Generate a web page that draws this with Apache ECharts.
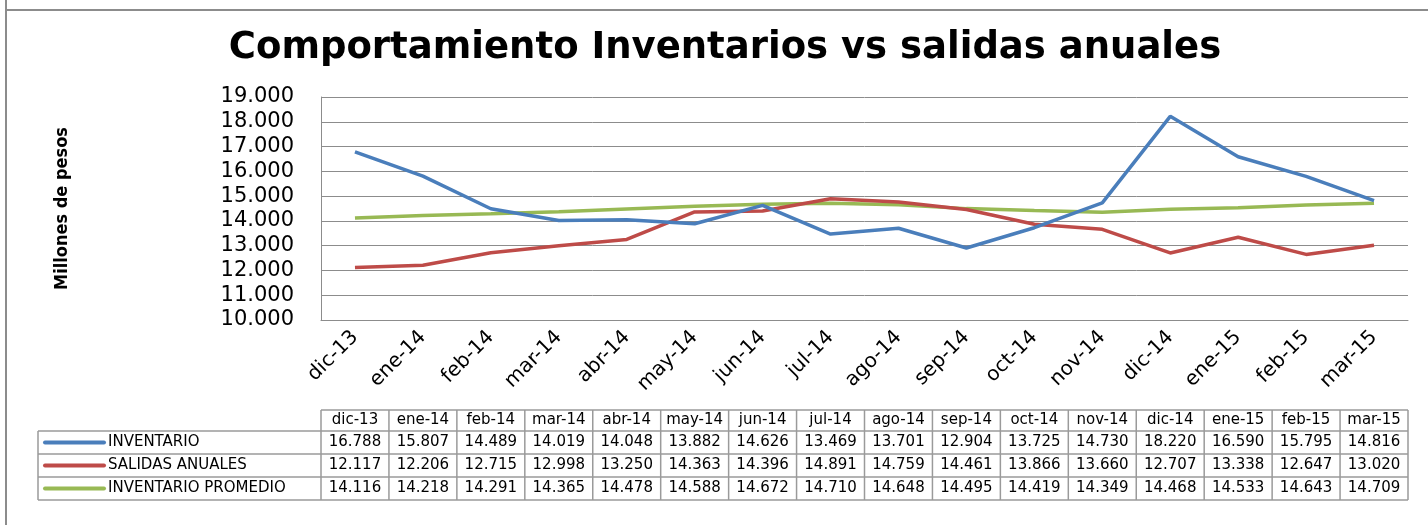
<!DOCTYPE html>
<html>
<head>
<meta charset="utf-8">
<script src="https://cdn.jsdelivr.net/npm/echarts@6/dist/echarts.min.js"></script>
<style>
  html, body { margin: 0; padding: 0; background: #fff; }
  #chart { width: 1428px; height: 525px; }
</style>
</head>
<body>
<div id="chart"></div>
<script>
// data (values in millones de pesos)
var months = ['dic-13', 'ene-14', 'feb-14', 'mar-14', 'abr-14', 'may-14', 'jun-14', 'jul-14',
  'ago-14', 'sep-14', 'oct-14', 'nov-14', 'dic-14', 'ene-15', 'feb-15', 'mar-15']
var inventario = [16788, 15807, 14489, 14019, 14048, 13882, 14626, 13469,
  13701, 12904, 13725, 14730, 18220, 16590, 15795, 14816]
var salidas = [12117, 12206, 12715, 12998, 13250, 14363, 14396, 14891,
  14759, 14461, 13866, 13660, 12707, 13338, 12647, 13020]
var promedio = [14116, 14218, 14291, 14365, 14478, 14588, 14672, 14710,
  14648, 14495, 14419, 14349, 14468, 14533, 14643, 14709]
var seriesNames = ['INVENTARIO', 'SALIDAS ANUALES', 'INVENTARIO PROMEDIO']
var colors = ['#4a7ebb', '#be4b48', '#98b954']

function fmt(v) {
  var miles = Math.floor(v / 1000)
  var rest = String(v % 1000)
  while (rest.length < 3) rest = '0' + rest
  return miles + '.' + rest
}

var chart = echarts.init(document.getElementById('chart'))
var gridColor = '#8c8c8c'

chart.setOption({
  animation: false,
  grid: { left: 321, right: 20, top: 97, bottom: 205 },
  xAxis: {
    type: 'category',
    data: months,
    boundaryGap: true,
    axisLine: { show: true, lineStyle: { color: gridColor, width: 1 } },
    axisTick: { show: false },
    axisLabel: {
      rotate: 45,
      margin: 14,
      interval: 0,
      color: '#000',
      fontFamily: 'DejaVu Sans',
      fontSize: 20
    }
  },
  yAxis: {
    type: 'value',
    min: 10000,
    max: 19000,
    interval: 1000,
    name: 'Millones de pesos',
    nameLocation: 'middle',
    nameRotate: 90,
    nameGap: 250,
    nameTextStyle: {
      fontFamily: '"DejaVu Sans Condensed", "Liberation Sans"',
      fontWeight: 'bold',
      fontSize: 18,
      color: '#000'
    },
    axisLine: { show: true, lineStyle: { color: gridColor, width: 1 } },
    axisTick: { show: false },
    splitLine: { lineStyle: { color: gridColor, width: 1 } },
    axisLabel: {
      margin: 27,
      color: '#000',
      fontFamily: 'DejaVu Sans',
      fontSize: 21,
      formatter: fmt
    }
  },
  series: [inventario, salidas, promedio].map(function (d, i) {
    return {
      name: seriesNames[i],
      type: 'line',
      data: d,
      symbol: 'none',
      lineStyle: { color: colors[i], width: 3.5 },
      z: 3 - i
    }
  })
})

// data table under the plot, columns taken from the category axis
var c0 = chart.convertToPixel({ xAxisIndex: 0 }, 0)
var c1 = chart.convertToPixel({ xAxisIndex: 0 }, 1)
var band = c1 - c0
var tableLeft = 38
var colStart = c0 - band / 2
var tableRight = colStart + band * months.length
var rowY = [410, 431, 454, 477, 500]
var lineColor = '#9a9a9a'
var tableFont = '15px "DejaVu Sans"'
var g = []

// frame
g.push({ type: 'line', shape: { x1: 6, y1: 10, x2: 1428, y2: 10 }, style: { stroke: '#8c8c8c', lineWidth: 2 } })
g.push({ type: 'line', shape: { x1: 6, y1: 0, x2: 6, y2: 525 }, style: { stroke: '#8c8c8c', lineWidth: 2 } })

// title
g.push({
  type: 'text', x: 725, y: 48,
  style: {
    text: 'Comportamiento Inventarios vs salidas anuales',
    font: 'bold 37px "DejaVu Sans"', fill: '#000',
    textAlign: 'center', textVerticalAlign: 'middle'
  }
})

// horizontal rules
g.push({ type: 'line', shape: { x1: colStart, y1: rowY[0], x2: tableRight, y2: rowY[0] }, style: { stroke: lineColor, lineWidth: 1.5 } })
for (var r = 1; r < rowY.length; r++) {
  g.push({ type: 'line', shape: { x1: tableLeft, y1: rowY[r], x2: tableRight, y2: rowY[r] }, style: { stroke: lineColor, lineWidth: 1.5 } })
}
// vertical rules
g.push({ type: 'line', shape: { x1: tableLeft, y1: rowY[1], x2: tableLeft, y2: rowY[4] }, style: { stroke: lineColor, lineWidth: 1.5 } })
for (var c = 0; c <= months.length; c++) {
  var x = colStart + band * c
  g.push({ type: 'line', shape: { x1: x, y1: rowY[0], x2: x, y2: rowY[4] }, style: { stroke: lineColor, lineWidth: 1.5 } })
}

// header texts
months.forEach(function (m, i) {
  g.push({
    type: 'text', x: colStart + band * (i + 0.5), y: (rowY[0] + rowY[1]) / 2,
    style: { text: m, font: tableFont, fill: '#000', textAlign: 'center', textVerticalAlign: 'middle' }
  })
})

// body rows
;[inventario, salidas, promedio].forEach(function (d, r) {
  var yMid = (rowY[r + 1] + rowY[r + 2]) / 2
  g.push({ type: 'line', shape: { x1: 45, y1: yMid, x2: 104, y2: yMid }, style: { stroke: colors[r], lineWidth: 4, lineCap: 'round' } })
  g.push({
    type: 'text', x: 108, y: yMid,
    style: { text: seriesNames[r], font: tableFont, fill: '#000', textAlign: 'left', textVerticalAlign: 'middle' }
  })
  d.forEach(function (v, i) {
    g.push({
      type: 'text', x: colStart + band * (i + 0.5), y: yMid,
      style: { text: fmt(v), font: tableFont, fill: '#000', textAlign: 'center', textVerticalAlign: 'middle' }
    })
  })
})

chart.setOption({ graphic: g })
</script>
</body>
</html>
